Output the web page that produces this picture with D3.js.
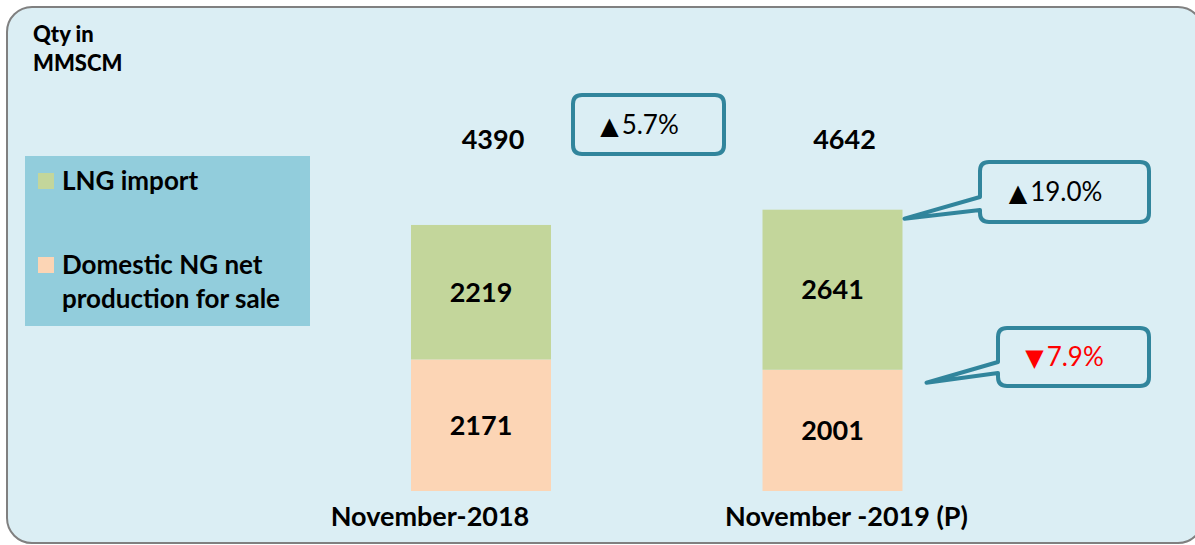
<!DOCTYPE html>
<html>
<head>
<meta charset="utf-8">
<script src="https://cdn.jsdelivr.net/npm/d3@7"></script>
<style>
  body { margin: 0; background: #fff; }
  svg text { font-family: Lato, "Open Sans", sans-serif; }
</style>
</head>
<body>
<div class="chart"></div>
<script>
const categories = ["November-2018", "November -2019 (P)"];
const lngImport = [2219, 2641];
const domestic = [2171, 2001];
const totals = [4390, 4642];
const seriesNames = ["LNG import", "Domestic NG net production for sale"];
const totalChange = 5.7;     // % change of total
const lngChange = 19.0;      // % change of LNG import
const domesticChange = -7.9; // % change of domestic production

const width = 1195, height = 545;
const colors = { lng: "#C3D69B", dom: "#FCD5B5", bg: "#DBEEF4", legend: "#92CDDC", callout: "#31859C" };

const svg = d3.select('.chart')
  .append('svg')
  .attr('width', width)
  .attr('height', height);

// outer rounded frame
svg.append('rect')
  .attr('x', 7).attr('y', 7)
  .attr('width', 1196).attr('height', 536)
  .attr('rx', 25)
  .attr('fill', colors.bg)
  .attr('stroke', '#808080')
  .attr('stroke-width', 2);

const yScale = d3.scaleLinear()
  .domain([0, 5000])
  .range([491, 188]);

const xScale = d3.scaleBand()
  .domain(categories)
  .range([199.5, 1114])
  .padding(211.5 / 351.5);

const bw = xScale.bandwidth();

// stacked bars: domestic at the bottom, LNG on top
const stackData = categories.map((c, i) => ({ cat: c, dom: domestic[i], lng: lngImport[i] }));
const stacked = d3.stack().keys(['dom', 'lng'])(stackData);

svg.selectAll('g.series')
  .data(stacked)
  .enter()
  .append('g')
  .attr('fill', d => colors[d.key])
  .selectAll('rect')
  .data(d => d)
  .enter()
  .append('rect')
  .attr('x', d => xScale(d.data.cat))
  .attr('y', d => yScale(d[1]))
  .attr('width', bw)
  .attr('height', d => yScale(d[0]) - yScale(d[1]));

// segment labels
stacked.forEach(s => {
  svg.selectAll(null)
    .data(s)
    .enter()
    .append('text')
    .attr('x', d => xScale(d.data.cat) + bw / 2)
    .attr('y', d => (yScale(d[0]) + yScale(d[1])) / 2)
    .attr('dy', '0.36em')
    .attr('text-anchor', 'middle')
    .style('font-size', '27px')
    .style('font-weight', 'bold')
    .text(d => d.data[s.key]);
});

// totals
svg.selectAll('text.total')
  .data(totals)
  .enter()
  .append('text')
  .attr('class', 'total')
  .attr('x', (d, i) => xScale(categories[i]) + bw / 2 + 12)
  .attr('y', 149)
  .attr('text-anchor', 'middle')
  .style('font-size', '27px')
  .style('font-weight', 'bold')
  .text(d => d);

// category labels
const catDx = [-51, 14];
svg.selectAll('text.cat')
  .data(categories)
  .enter()
  .append('text')
  .attr('class', 'cat')
  .attr('x', (d, i) => xScale(d) + bw / 2 + catDx[i])
  .attr('y', 526)
  .attr('text-anchor', 'middle')
  .style('font-size', '27px')
  .style('font-weight', 'bold')
  .text(d => d);

// axis title
const title = svg.append('text')
  .attr('x', 33).attr('y', 42)
  .style('font-size', '22px')
  .style('font-weight', '900');
title.append('tspan').attr('x', 33).text('Qty in');
title.append('tspan').attr('x', 33).attr('y', 71).text('MMSCM');

// legend
const legend = svg.append('g');
legend.append('rect')
  .attr('x', 25).attr('y', 156)
  .attr('width', 285).attr('height', 170)
  .attr('fill', colors.legend);
legend.append('rect')
  .attr('x', 38).attr('y', 173).attr('width', 16).attr('height', 16)
  .attr('fill', colors.lng);
legend.append('rect')
  .attr('x', 38).attr('y', 257).attr('width', 16).attr('height', 16)
  .attr('fill', colors.dom);
legend.append('text')
  .attr('x', 62).attr('y', 190)
  .style('font-size', '26px').style('font-weight', 'bold')
  .text(seriesNames[0]);
const leg2 = legend.append('text')
  .attr('x', 62).attr('y', 274)
  .style('font-size', '26px').style('font-weight', 'bold');
leg2.append('tspan').attr('x', 62).text('Domestic NG net');
leg2.append('tspan').attr('x', 62).attr('y', 308).text('production for sale');

// callouts
function calloutPath(x, y, w, h, r, ptr) {
  let p = `M${x + r},${y} H${x + w - r} Q${x + w},${y} ${x + w},${y + r} V${y + h - r} ` +
    `Q${x + w},${y + h} ${x + w - r},${y + h} H${x + r} Q${x},${y + h} ${x},${y + h - r} `;
  if (ptr) p += `V${ptr.b2} L${ptr.tx},${ptr.ty} L${x},${ptr.b1} `;
  p += `V${y + r} Q${x},${y} ${x + r},${y} Z`;
  return p;
}

const barRight = xScale(categories[1]) + bw;
const callouts = [
  { v: totalChange, x: 573, y: 95, w: 151, h: 59, ptr: null },
  { v: lngChange, x: 980, y: 162, w: 169, h: 60,
    ptr: { b1: 197, b2: 210, tx: barRight + 2, ty: yScale(totals[1]) + 9 } },
  { v: domesticChange, x: 998, y: 328, w: 151, h: 58,
    ptr: { b1: 362, b2: 373, tx: barRight + 24, ty: yScale(domestic[1]) + 13 } }
];

callouts.forEach(c => {
  svg.append('path')
    .attr('d', calloutPath(c.x, c.y, c.w, c.h, 9, c.ptr))
    .attr('fill', colors.bg)
    .attr('stroke', colors.callout)
    .attr('stroke-width', 4)
    .attr('stroke-linejoin', 'round');
  const t = svg.append('text')
    .attr('x', c.x + c.w / 2 - 9)
    .attr('y', c.y + c.h / 2 + 9)
    .attr('text-anchor', 'middle')
    .style('font-size', '26px')
    .attr('fill', c.v >= 0 ? '#000' : '#FF0000');
  t.append('tspan')
    .style('font-family', '"DejaVu Sans", sans-serif')
    .style('font-size', '24px')
    .text(c.v >= 0 ? '\u25B2' : '\u25BC');
  t.append('tspan')
    .attr('dx', 3)
    .text(Math.abs(c.v).toFixed(1) + '%');
});
</script>
</body>
</html>
